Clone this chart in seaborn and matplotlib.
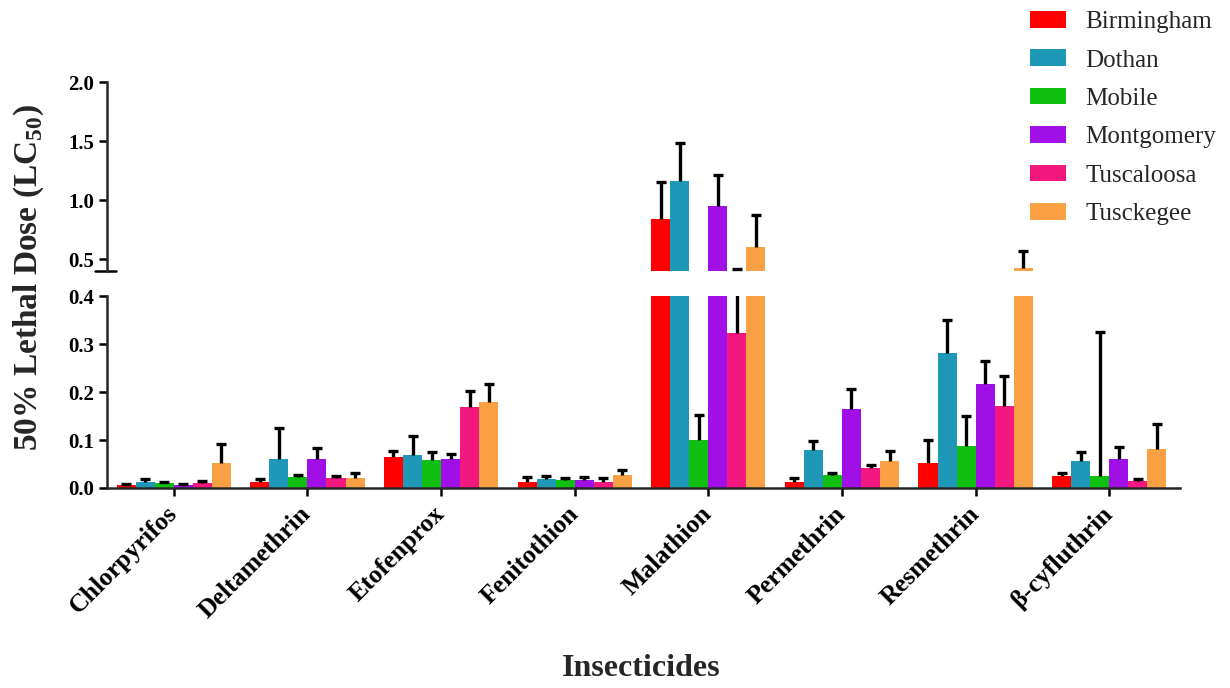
import pandas as pd
import numpy as np
import matplotlib
matplotlib.use('Agg')
import matplotlib.pyplot as plt
import seaborn as sns
from matplotlib.patches import Patch

# datos
insecticides = ['Chlorpyrifos', 'Deltamethrin', 'Etofenprox', 'Fenitothion',
                'Malathion', 'Permethrin', 'Resmethrin', 'β-cyfluthrin']
cities = ['Birmingham', 'Dothan', 'Mobile', 'Montgomery', 'Tuscaloosa', 'Tusckegee']
colors = ['#FF0000', '#1F97B6', '#10C010', '#A010E6', '#F3187F', '#F9A045']

birmingham = [0.006, 0.013, 0.065, 0.013, 0.845, 0.013, 0.053, 0.025]
dothan = [0.012, 0.060, 0.069, 0.018, 1.163, 0.079, 0.282, 0.056]
mobile = [0.010, 0.023, 0.058, 0.017, 0.099, 0.027, 0.088, 0.024]
montgomery = [0.007, 0.060, 0.060, 0.016, 0.949, 0.164, 0.217, 0.061]
tuscaloosa = [0.011, 0.021, 0.169, 0.013, 0.322, 0.041, 0.171, 0.015]
tusckegee = [0.052, 0.020, 0.180, 0.027, 0.604, 0.056, 0.425, 0.081]

birmingham_err = [0.002, 0.005, 0.013, 0.009, 0.305, 0.007, 0.048, 0.007]
dothan_err = [0.007, 0.065, 0.040, 0.007, 0.323, 0.019, 0.069, 0.020]
mobile_err = [0.002, 0.005, 0.017, 0.003, 0.053, 0.004, 0.061, 0.302]
montgomery_err = [0.001, 0.023, 0.011, 0.006, 0.263, 0.042, 0.048, 0.024]
tuscaloosa_err = [0.004, 0.004, 0.034, 0.008, 0.098, 0.007, 0.062, 0.003]
tusckegee_err = [0.040, 0.011, 0.037, 0.011, 0.269, 0.022, 0.145, 0.052]

values = [birmingham, dothan, mobile, montgomery, tuscaloosa, tusckegee]
errors = [birmingham_err, dothan_err, mobile_err, montgomery_err, tuscaloosa_err, tusckegee_err]

rows = []
for c, vals, errs in zip(cities, values, errors):
    for ins, v, e in zip(insecticides, vals, errs):
        rows.append({'Insecticide': ins, 'City': c, 'LC50': v, 'err': e})
df = pd.DataFrame(rows)

sns.set_style('ticks')
plt.rcParams['font.family'] = ['Liberation Serif', 'DejaVu Serif']
plt.rcParams['mathtext.fontset'] = 'custom'
plt.rcParams['mathtext.rm'] = 'Liberation Serif'
plt.rcParams['mathtext.bf'] = 'Liberation Serif:bold'

fig = plt.figure(figsize=(12.3, 6.88), dpi=100)
ax_low = fig.add_axes([0.087, 0.2907, 0.8724, 0.279])
ax_up = fig.add_axes([0.087, 0.606, 0.8724, 0.2747])

for ax in [ax_low, ax_up]:
    sns.barplot(data=df, x='Insecticide', y='LC50', hue='City', order=insecticides,
                hue_order=cities, palette=colors, width=0.855, saturation=1,
                errorbar=None, linewidth=0, legend=False, ax=ax)
    # barras de error (solo hacia arriba)
    for cont, c in zip(ax.containers, cities):
        sub = df[df['City'] == c].set_index('Insecticide').loc[insecticides]
        xs = [p.get_x() + p.get_width() / 2 for p in cont]
        eb = ax.errorbar(xs, sub['LC50'], yerr=[np.zeros(len(xs)), sub['err']], fmt='none',
                         ecolor='black', elinewidth=2.4, capsize=3.8, capthick=2.4, zorder=5)
        eb[1][0].set_visible(False)
    ax.set_xlim(-0.5, 7.53)
    ax.set_xlabel('')
    ax.set_ylabel('')
    ax.set_facecolor('none')

ax_low.set_ylim(0, 0.4)
ax_low.set_yticks([0.0, 0.1, 0.2, 0.3, 0.4])
ax_low.set_yticklabels(['0.0', '0.1', '0.2', '0.3', '0.4'])
ax_up.set_ylim(0.4, 2.0)
ax_up.set_yticks([0.5, 1.0, 1.5, 2.0])
ax_up.set_yticklabels(['0.5', '1.0', '1.5', '2.0'])

sns.despine(ax=ax_low)
sns.despine(ax=ax_up, bottom=True)
ax_up.set_xticks([])

for ax in [ax_low, ax_up]:
    for s in ['left', 'bottom']:
        ax.spines[s].set_linewidth(1.8)
    ax.tick_params(axis='both', width=1.8, length=6, colors='black')
    for lab in ax.get_yticklabels():
        lab.set_fontweight('bold')
        lab.set_fontsize(15)

# marca del corte del eje
ax_up.plot([-0.011, 0.008], [0, 0], transform=ax_up.transAxes, color='black',
           lw=1.8, clip_on=False)

ax_low.set_xticks(range(len(insecticides)))
ax_low.set_xticklabels(insecticides, rotation=45, ha='right', va='center',
                       rotation_mode='anchor', fontsize=18.5, fontweight='bold')
ax_low.tick_params(axis='x', pad=10)

fig.text(0.521, 0.028, 'Insecticides', ha='center', va='center', fontsize=23, fontweight='bold')
fig.text(0.023, 0.597, r'50% Lethal Dose (LC$_{\mathbf{50}}$)', rotation=90, ha='center',
         va='center', fontsize=24, fontweight='bold')

handles = [Patch(facecolor=col, edgecolor='none', label=c) for c, col in zip(cities, colors)]
fig.legend(handles=handles, loc='upper left', bbox_to_anchor=(1030 / 1230, 0.984),
           frameon=False, fontsize=18, borderpad=0, borderaxespad=0,
           handlelength=1.45, handleheight=0.65, handletextpad=0.75, labelspacing=0.65)

fig.savefig('out.png', dpi=100)
